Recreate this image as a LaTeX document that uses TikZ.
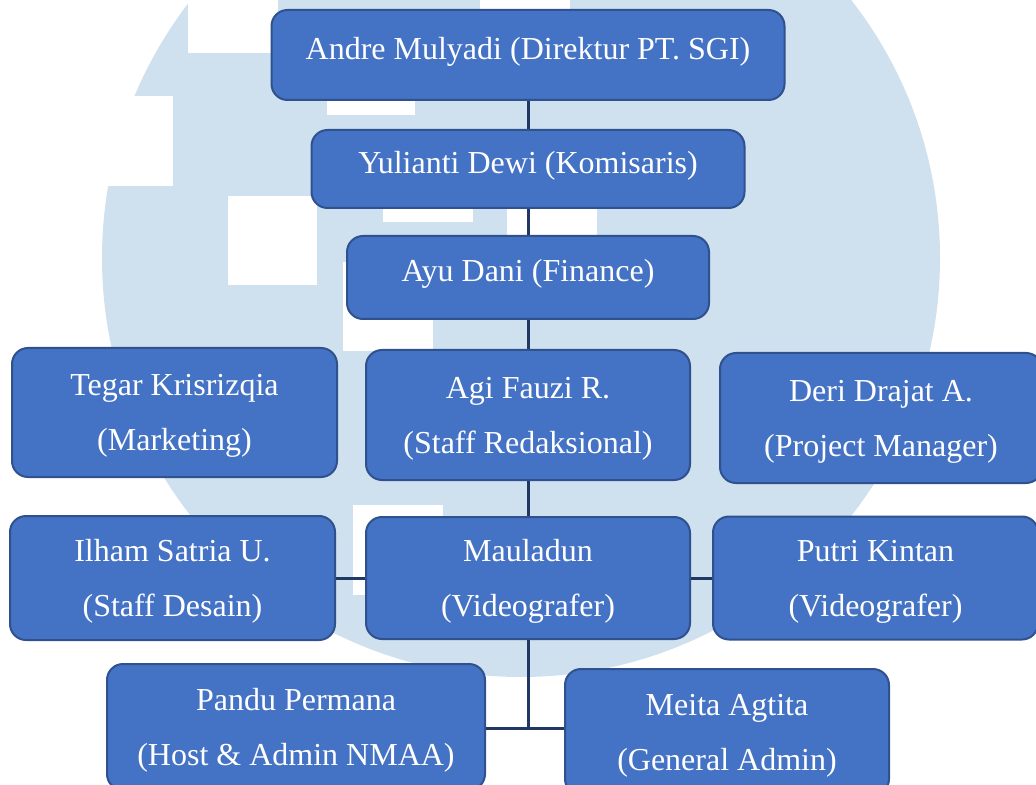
\documentclass[tikz,border=0pt]{standalone}
\usepackage{fontspec}
\setmainfont{Liberation Serif}
\definecolor{boxblue}{RGB}{68,114,196}
\definecolor{boxedge}{RGB}{47,82,143}
\definecolor{linenavy}{RGB}{31,56,100}
\definecolor{wmblue}{RGB}{207,224,239}
\tikzset{
  orgbox/.style={draw=boxedge, line width=1pt, fill=boxblue, rounded corners=8pt,
    text=white, align=center, inner sep=2pt, font=\fontsize{16}{27.5}\selectfont},
  onerow/.style={text height=11.5pt, text depth=7pt},
  tworow/.style={text depth=0pt},
  conn/.style={draw=linenavy, line width=1.5pt}
}
\begin{document}
\begin{tikzpicture}[x=0.5pt, y=-0.5pt]
\useasboundingbox (0,0) rectangle (1036,785);
\clip (0,0) rectangle (1036,785);

\fill[wmblue] (521,258) circle[radius=209.5pt];
\fill[white] (188,0) rectangle (278,53);
\fill[white] (83,96) rectangle (173,186);
\fill[white] (228,196) rectangle (317,285);
\fill[white] (327,100) rectangle (415,115);
\fill[white] (480,0) rectangle (570,10);
\fill[white] (383,209) rectangle (473,222);
\fill[white] (507,145) rectangle (597,235);
\fill[white] (343,262) rectangle (433,351);
\fill[white] (353,505) rectangle (443,595);

\node[orgbox, onerow, minimum width=256.5pt, minimum height=45pt] (andre) at (528,55) {Andre Mulyadi (Direktur PT. SGI)};
\node[orgbox, onerow, minimum width=216.5pt, minimum height=39pt] (yulianti) at (528,169) {Yulianti Dewi (Komisaris)};
\node[orgbox, onerow, minimum width=181pt, minimum height=41.5pt] (ayu) at (528,277.5) {Ayu Dani (Finance)};

\node[orgbox, tworow, minimum width=162.5pt, minimum height=64.5pt] (tegar) at (174.5,412.5) {Tegar Krisrizqia\\(Marketing)};
\node[orgbox, tworow, minimum width=162pt, minimum height=65pt] (agi) at (528,415) {Agi Fauzi R.\\(Staff Redaksional)};
\node[orgbox, tworow, minimum width=161pt, minimum height=65pt] (deri) at (881,418) {Deri Drajat A.\\(Project Manager)};

\node[orgbox, tworow, minimum width=162.5pt, minimum height=62pt] (ilham) at (172.5,578) {Ilham Satria U.\\(Staff Desain)};
\node[orgbox, tworow, minimum width=162pt, minimum height=61pt] (mauladun) at (528,578) {Mauladun\\(Videografer)};
\node[orgbox, tworow, minimum width=162.5pt, minimum height=61.5pt] (putri) at (875.5,578) {Putri Kintan\\(Videografer)};

\node[orgbox, tworow, minimum width=189pt, minimum height=63pt] (pandu) at (296,727) {Pandu Permana\\(Host \& Admin NMAA)};
\node[orgbox, tworow, minimum width=162pt, minimum height=63pt] (meita) at (727,732) {Meita Agtita\\(General Admin)};

\coordinate (jn) at (528,728);

\draw[conn] (andre) -- (yulianti);
\draw[conn] (yulianti) -- (ayu);
\draw[conn] (ayu) -- (agi);
\draw[conn] (agi) -- (mauladun);
\draw[conn] (ilham) -- (mauladun);
\draw[conn] (mauladun) -- (putri);
\draw[conn] (mauladun.south) -- (jn);
\draw[conn] (pandu.east |- jn) -- (meita.west |- jn);
\end{tikzpicture}
\end{document}
